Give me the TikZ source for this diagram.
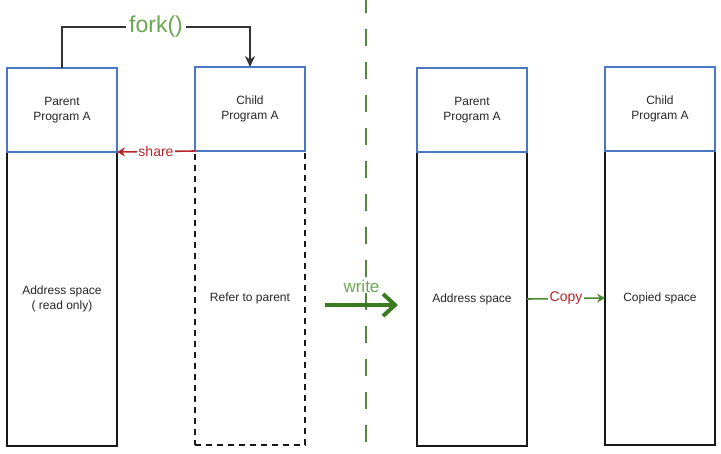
\documentclass[tikz,border=0pt]{standalone}
\usepackage{fontspec}
\setmainfont{Liberation Sans}
\usetikzlibrary{arrows.meta,positioning}
\definecolor{boxblue}{HTML}{4A78C2}
\definecolor{forkgreen}{HTML}{6AA84F}
\definecolor{darkgreen}{HTML}{3B7A1E}
\definecolor{sharered}{HTML}{B3262B}

\begin{document}
\begin{tikzpicture}[x=1pt, y=-1pt,
  head/.style={draw=boxblue, line width=2pt, minimum width=110pt,
    minimum height=84pt, inner sep=0pt, outer sep=0pt, align=center,
    text=black!85, font=\fontsize{12}{15}\selectfont},
  body/.style={draw=black!90, line width=2pt, minimum width=110pt,
    minimum height=294pt, inner sep=0pt, outer sep=0pt, align=center,
    text=black!85, font=\fontsize{12}{15}\selectfont},
  lbl/.style={fill=white, inner sep=1.5pt, font=\fontsize{14}{16}\selectfont}]
  \useasboundingbox (0,0) rectangle (721,453);

  % left half: right after fork()
  \node[body] (pbody) at (62,299) {Address space\\( read only)};
  \node[head, above=0pt of pbody] (phead) {Parent\\Program A};
  \node[body, dash pattern=on 6pt off 5pt] (cbody) at (250,298) {Refer to parent};
  \node[head, above=0pt of cbody] (chead) {Child\\Program A};

  \draw[-{Stealth[length=11pt, width=10pt]}, line width=2.4pt, black!80]
    (phead.north) -- ++(0,-41) -| node[pos=0.25, fill=white, inner sep=3pt,
      text=forkgreen, font=\fontsize{23}{26}\selectfont] {fork()} (chead.north);
  \draw[-{Stealth[length=8pt, width=9pt]}, line width=1.6pt, sharered]
    (cbody.north west) -- node[lbl, text=sharered] {share} (pbody.north east);

  % divider
  \draw[forkgreen!80!black, line width=2pt, dash pattern=on 17pt off 16pt]
    (366,-4) -- (366,453);

  \coordinate (wstart) at (325,305);
  \coordinate (wend) at (398,305);
  \draw[-{Straight Barb[length=12pt, width=22pt]}, line width=4pt, darkgreen]
    (wstart) -- node[above=7pt, text=forkgreen,
      font=\fontsize{17}{19}\selectfont] {write} (wend);

  % right half: after a write
  \node[body] (abody) at (472,299) {Address space};
  \node[head, above=0pt of abody] (ahead) {Parent\\Program A};
  \node[body] (cpbody) at (660,298) {Copied space};
  \node[head, above=0pt of cpbody] (cphead) {Child\\Program A};

  \draw[-{Stealth[length=8pt, width=9pt]}, line width=1.6pt, darkgreen!90]
    (abody.east) -- node[lbl, text=sharered] {Copy} (cpbody.west);
\end{tikzpicture}
\end{document}
